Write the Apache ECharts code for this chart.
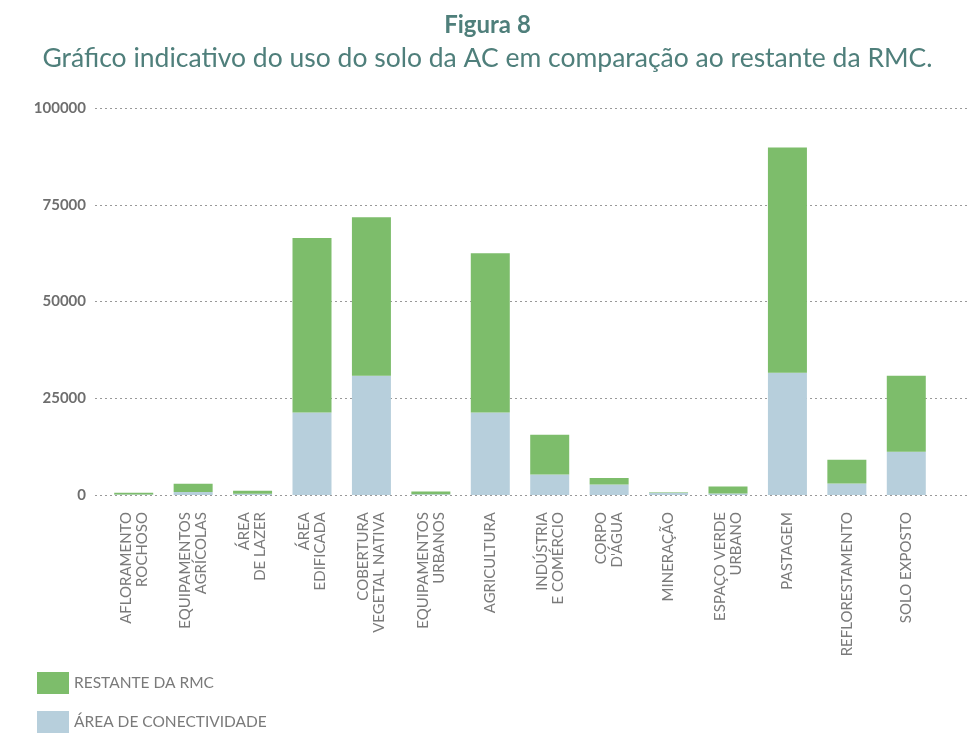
<!DOCTYPE html>
<html>
<head>
<meta charset="utf-8"/>
<title>Figura 8</title>
<script src="https://cdn.jsdelivr.net/npm/echarts@6/dist/echarts.min.js"></script>
<style>
  html, body { margin: 0; padding: 0; background: #fff; }
  #chart { width: 975px; height: 734px; }
</style>
</head>
<body>
<div id="chart"></div>
<script type="text/javascript">
var categorias = ['AFLORAMENTO\nROCHOSO', 'EQUIPAMENTOS\nAGRÍCOLAS', 'ÁREA\nDE LAZER', 'ÁREA\nEDIFICADA',
  'COBERTURA\nVEGETAL NATIVA', 'EQUIPAMENTOS\nURBANOS', 'AGRICULTURA', 'INDÚSTRIA\nE COMÉRCIO',
  'CORPO\nD\'ÁGUA', 'MINERAÇÃO', 'ESPAÇO VERDE\nURBANO', 'PASTAGEM', 'REFLORESTAMENTO', 'SOLO EXPOSTO'];
var conectividade = [100, 800, 300, 21300, 30800, 200, 21300, 5300, 2700, 600, 400, 31600, 3000, 11200];
var restante = [500, 2100, 800, 45100, 41000, 700, 41200, 10300, 1700, 100, 1800, 58200, 6100, 19600];
var yTicks = [0, 25000, 50000, 75000, 100000];

var cinza = '#7a7a7a';
var titulo = '#4f7f7b';

var chart = echarts.init(document.getElementById('chart'));
var option = {
  animation: false,
  textStyle: { fontFamily: 'Lato' },
  title: [
    { text: 'Figura 8', left: 'center', top: 8,
      textStyle: { fontFamily: 'Lato', fontWeight: 'bold', fontSize: 24, color: titulo } },
    { text: 'Gráfico indicativo do uso do solo da AC em comparação ao restante da RMC.', left: 'center', top: 40,
      textStyle: { fontFamily: 'Lato', fontWeight: 'normal', fontSize: 26.5, color: titulo } }
  ],
  legend: {
    orient: 'vertical', left: 37, top: 672, padding: 0,
    itemWidth: 32, itemHeight: 22, itemGap: 17,
    icon: 'rect',
    data: ['RESTANTE DA RMC', 'ÁREA DE CONECTIVIDADE'],
    textStyle: { fontFamily: 'Lato', fontSize: 15.5, color: cinza }
  },
  grid: [
    { left: 95, right: 5, top: 108, bottom: 239 },
    { left: 104, right: 39, top: 108, bottom: 239 }
  ],
  xAxis: [
    { type: 'value', gridIndex: 0, min: 0, max: 1, show: false },
    { type: 'category', gridIndex: 1, data: categorias,
      axisLine: { show: false }, axisTick: { show: false },
      axisLabel: { rotate: 90, interval: 0, margin: 17, fontFamily: 'Lato', fontSize: 15,
        lineHeight: 16, color: cinza } }
  ],
  yAxis: [
    { type: 'value', gridIndex: 0, min: yTicks[0], max: yTicks[yTicks.length - 1], interval: 25000,
      axisLine: { show: false }, axisTick: { show: false },
      axisLabel: { margin: 9, fontFamily: 'Lato', fontWeight: 'bold', fontSize: 15, color: '#6e6e6e',
        formatter: function (v) { return String(v); } },
      splitLine: { lineStyle: { type: [2, 3], color: '#999', width: 1 } } },
    { type: 'value', gridIndex: 1, min: yTicks[0], max: yTicks[yTicks.length - 1], interval: 25000,
      show: false, splitLine: { show: false } }
  ],
  series: [
    { name: 'ÁREA DE CONECTIVIDADE', type: 'bar', stack: 'uso', xAxisIndex: 1, yAxisIndex: 1,
      data: conectividade, barWidth: 39, itemStyle: { color: '#b7cfdc' } },
    { name: 'RESTANTE DA RMC', type: 'bar', stack: 'uso', xAxisIndex: 1, yAxisIndex: 1,
      data: restante, barWidth: 39, itemStyle: { color: '#7dbd6b' } }
  ]
};
chart.setOption(option);
</script>
</body>
</html>
